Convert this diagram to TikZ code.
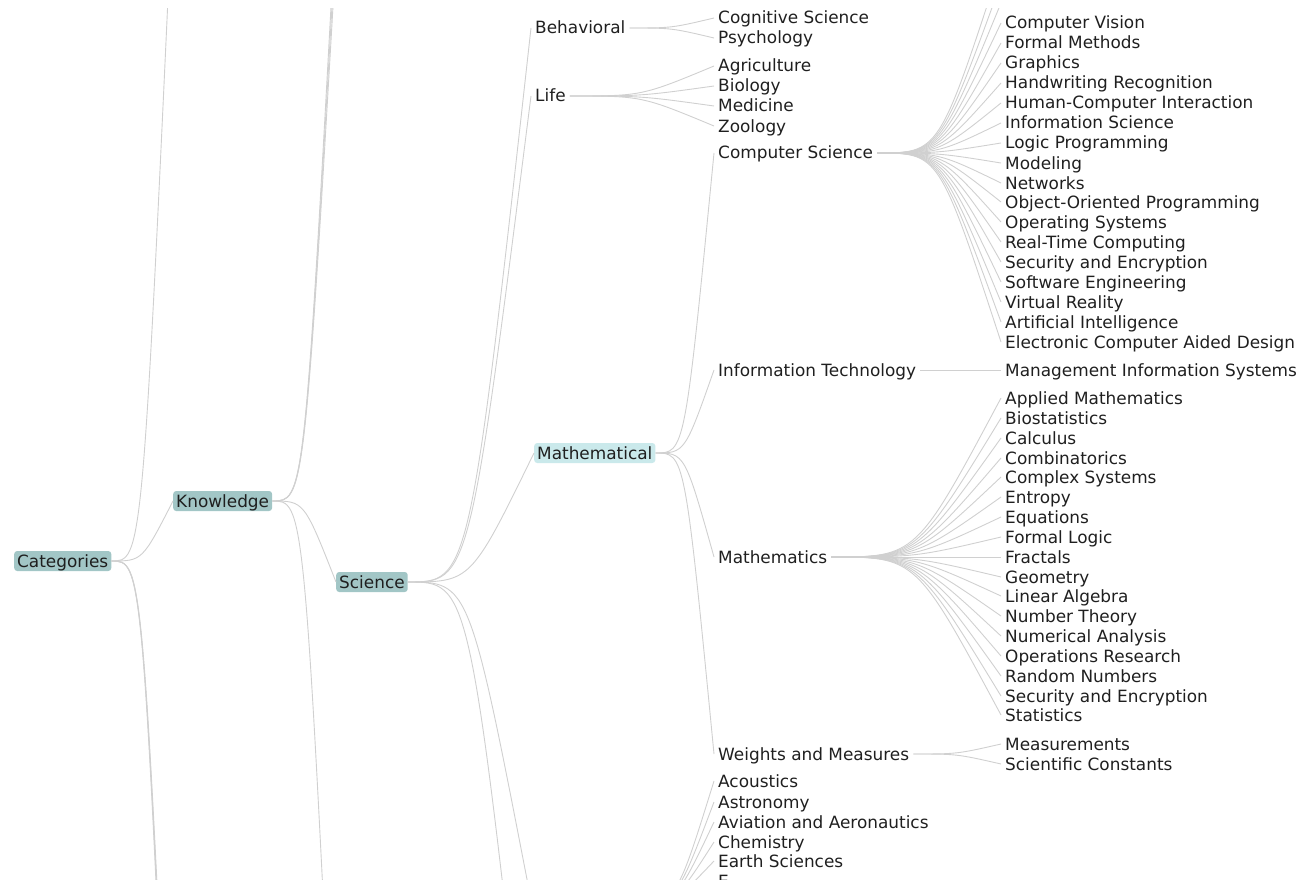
\documentclass[tikz,border=0pt]{standalone}
\usepackage{fontspec}
\setmainfont{DejaVu Sans}
\usepackage{xcolor}
\usepackage{tikz}
\usetikzlibrary{calc}
\definecolor{boxteal}{HTML}{A2C6C6}
\definecolor{boxcyan}{HTML}{CAE9EB}
\definecolor{edgegray}{HTML}{D0D0D0}
\tikzstyle{topic} = [anchor=west, inner xsep=4pt, inner ysep=1pt, text height=14pt, text depth=2pt, text=black!88, font=\fontsize{16.9}{18}\selectfont]
\tikzstyle{openbox} = [topic, fill=boxteal, rounded corners=3pt, minimum height=20pt, inner xsep=3pt]
\tikzstyle{selbox} = [openbox, fill=boxcyan]
\tikzstyle{link} = [draw=edgegray, line width=0.9pt, to path={.. controls ($(\tikztostart)!0.5!(\tikztostart -| \tikztotarget)$) .. (\tikztotarget)}]

\begin{document}
\begin{tikzpicture}[x=1pt, y=-1pt]
        \useasboundingbox (0,0) rectangle (1301,880);
        \begin{scope}
        \clip (0,9) rectangle (1301,880);

        % Vertices
        \node[openbox] (n_cat) at (14,561) {Categories};
        \node[openbox] (n_know) at (173,501) {Knowledge};
        \node[openbox] (n_sci) at (336,582) {Science};
        \node[topic] (n_beh) at (531,28) {Behavioral};
        \node[topic] (n_life) at (531,96) {Life};
        \node[selbox] (n_math) at (534,453) {Mathematical};

        \node[topic] (n_cog) at (714,18) {Cognitive Science};
        \node[topic] (n_psy) at (714,38) {Psychology};
        \node[topic] (n_agr) at (714,66) {Agriculture};
        \node[topic] (n_bio) at (714,86) {Biology};
        \node[topic] (n_med) at (714,106) {Medicine};
        \node[topic] (n_zoo) at (714,126) {Zoology};
        \node[topic] (n_cs) at (714,153) {Computer Science};
        \node[topic] (n_it) at (714,370) {Information Technology};
        \node[topic] (n_mth) at (714,557) {Mathematics};
        \node[topic] (n_wm) at (714,754) {Weights and Measures};
        \node[topic] (n_aco) at (714,781) {Acoustics};
        \node[topic] (n_ast) at (714,802) {Astronomy};
        \node[topic] (n_avi) at (714,822) {Aviation and Aeronautics};
        \node[topic] (n_che) at (714,842) {Chemistry};
        \node[topic] (n_ear) at (714,861) {Earth Sciences};
        \node[topic] (n_e) at (714,881) {E};

        \node[topic] (n_cs_0) at (1001,23) {Computer Vision};
        \node[topic] (n_cs_1) at (1001,43) {Formal Methods};
        \node[topic] (n_cs_2) at (1001,63) {Graphics};
        \node[topic] (n_cs_3) at (1001,83) {Handwriting Recognition};
        \node[topic] (n_cs_4) at (1001,103) {Human-Computer Interaction};
        \node[topic] (n_cs_5) at (1001,123) {Information Science};
        \node[topic] (n_cs_6) at (1001,143) {Logic Programming};
        \node[topic] (n_cs_7) at (1001,163) {Modeling};
        \node[topic] (n_cs_8) at (1001,183) {Networks};
        \node[topic] (n_cs_9) at (1001,202) {Object-Oriented Programming};
        \node[topic] (n_cs_10) at (1001,222) {Operating Systems};
        \node[topic] (n_cs_11) at (1001,242) {Real-Time Computing};
        \node[topic] (n_cs_12) at (1001,262) {Security and Encryption};
        \node[topic] (n_cs_13) at (1001,282) {Software Engineering};
        \node[topic] (n_cs_14) at (1001,302) {Virtual Reality};
        \node[topic] (n_cs_15) at (1001,322) {Artificial Intelligence};
        \node[topic] (n_cs_16) at (1001,342) {Electronic Computer Aided Design};

        \node[topic] (n_mis) at (1001,370) {Management Information Systems};

        \node[topic] (n_m_0) at (1001,398) {Applied Mathematics};
        \node[topic] (n_m_1) at (1001,418) {Biostatistics};
        \node[topic] (n_m_2) at (1001,438) {Calculus};
        \node[topic] (n_m_3) at (1001,458) {Combinatorics};
        \node[topic] (n_m_4) at (1001,477) {Complex Systems};
        \node[topic] (n_m_5) at (1001,497) {Entropy};
        \node[topic] (n_m_6) at (1001,517) {Equations};
        \node[topic] (n_m_7) at (1001,537) {Formal Logic};
        \node[topic] (n_m_8) at (1001,557) {Fractals};
        \node[topic] (n_m_9) at (1001,577) {Geometry};
        \node[topic] (n_m_10) at (1001,596) {Linear Algebra};
        \node[topic] (n_m_11) at (1001,616) {Number Theory};
        \node[topic] (n_m_12) at (1001,636) {Numerical Analysis};
        \node[topic] (n_m_13) at (1001,656) {Operations Research};
        \node[topic] (n_m_14) at (1001,676) {Random Numbers};
        \node[topic] (n_m_15) at (1001,696) {Security and Encryption};
        \node[topic] (n_m_16) at (1001,715) {Statistics};

        \node[topic] (n_meas) at (1001,744) {Measurements};
        \node[topic] (n_const) at (1001,764) {Scientific Constants};

        % Off-screen ends
        \coordinate (o_cat_1) at (173,-111);
        \coordinate (o_cat_2) at (173,1220);
        \coordinate (o_cat_3) at (173,1240);
        \coordinate (o_cat_4) at (173,1260);
        \coordinate (o_know_1) at (336,-45);
        \coordinate (o_know_2) at (336,-65);
        \coordinate (o_know_3) at (336,-85);
        \coordinate (o_know_4) at (336,1159);
        \coordinate (o_sci_1) at (531,900);
        \coordinate (o_sci_2) at (531,1136);
        \coordinate (o_phys) at (640,900);
        \coordinate (o_cs_1) at (1001,3);
        \coordinate (o_cs_2) at (1001,-17);
        \coordinate (o_cs_3) at (1001,-37);

        % Edges
        \draw[link] (n_cat.east) to (o_cat_1);
        \draw[link] (n_cat.east) to (n_know.west);
        \draw[link] (n_cat.east) to (o_cat_2);
        \draw[link] (n_cat.east) to (o_cat_3);
        \draw[link] (n_cat.east) to (o_cat_4);

        \draw[link] (n_know.east) to (o_know_1);
        \draw[link] (n_know.east) to (o_know_2);
        \draw[link] (n_know.east) to (o_know_3);
        \draw[link] (n_know.east) to (n_sci.west);
        \draw[link] (n_know.east) to (o_know_4);

        \draw[link] (n_sci.east) to (n_beh.west);
        \draw[link] (n_sci.east) to (n_life.west);
        \draw[link] (n_sci.east) to (n_math.west);
        \draw[link] (n_sci.east) to (o_sci_1);
        \draw[link] (n_sci.east) to (o_sci_2);

        \draw[link] (n_beh.east) to (n_cog.west);
        \draw[link] (n_beh.east) to (n_psy.west);
        \draw[link] (n_life.east) to (n_agr.west);
        \draw[link] (n_life.east) to (n_bio.west);
        \draw[link] (n_life.east) to (n_med.west);
        \draw[link] (n_life.east) to (n_zoo.west);

        \draw[link] (n_math.east) to (n_cs.west);
        \draw[link] (n_math.east) to (n_it.west);
        \draw[link] (n_math.east) to (n_mth.west);
        \draw[link] (n_math.east) to (n_wm.west);

        \draw[link] (o_phys) to (n_aco.west);
        \draw[link] (o_phys) to (n_ast.west);
        \draw[link] (o_phys) to (n_avi.west);
        \draw[link] (o_phys) to (n_che.west);
        \draw[link] (o_phys) to (n_ear.west);
        \draw[link] (o_phys) to (n_e.west);

        \draw[link] (n_cs.east) to (o_cs_3);
        \draw[link] (n_cs.east) to (o_cs_2);
        \draw[link] (n_cs.east) to (o_cs_1);
        \draw[link] (n_cs.east) to (n_cs_0.west);
        \draw[link] (n_cs.east) to (n_cs_1.west);
        \draw[link] (n_cs.east) to (n_cs_2.west);
        \draw[link] (n_cs.east) to (n_cs_3.west);
        \draw[link] (n_cs.east) to (n_cs_4.west);
        \draw[link] (n_cs.east) to (n_cs_5.west);
        \draw[link] (n_cs.east) to (n_cs_6.west);
        \draw[link] (n_cs.east) to (n_cs_7.west);
        \draw[link] (n_cs.east) to (n_cs_8.west);
        \draw[link] (n_cs.east) to (n_cs_9.west);
        \draw[link] (n_cs.east) to (n_cs_10.west);
        \draw[link] (n_cs.east) to (n_cs_11.west);
        \draw[link] (n_cs.east) to (n_cs_12.west);
        \draw[link] (n_cs.east) to (n_cs_13.west);
        \draw[link] (n_cs.east) to (n_cs_14.west);
        \draw[link] (n_cs.east) to (n_cs_15.west);
        \draw[link] (n_cs.east) to (n_cs_16.west);

        \draw[link] (n_it.east) to (n_mis.west);

        \draw[link] (n_mth.east) to (n_m_0.west);
        \draw[link] (n_mth.east) to (n_m_1.west);
        \draw[link] (n_mth.east) to (n_m_2.west);
        \draw[link] (n_mth.east) to (n_m_3.west);
        \draw[link] (n_mth.east) to (n_m_4.west);
        \draw[link] (n_mth.east) to (n_m_5.west);
        \draw[link] (n_mth.east) to (n_m_6.west);
        \draw[link] (n_mth.east) to (n_m_7.west);
        \draw[link] (n_mth.east) to (n_m_8.west);
        \draw[link] (n_mth.east) to (n_m_9.west);
        \draw[link] (n_mth.east) to (n_m_10.west);
        \draw[link] (n_mth.east) to (n_m_11.west);
        \draw[link] (n_mth.east) to (n_m_12.west);
        \draw[link] (n_mth.east) to (n_m_13.west);
        \draw[link] (n_mth.east) to (n_m_14.west);
        \draw[link] (n_mth.east) to (n_m_15.west);
        \draw[link] (n_mth.east) to (n_m_16.west);

        \draw[link] (n_wm.east) to (n_meas.west);
        \draw[link] (n_wm.east) to (n_const.west);
        \end{scope}
\end{tikzpicture}
\end{document}
